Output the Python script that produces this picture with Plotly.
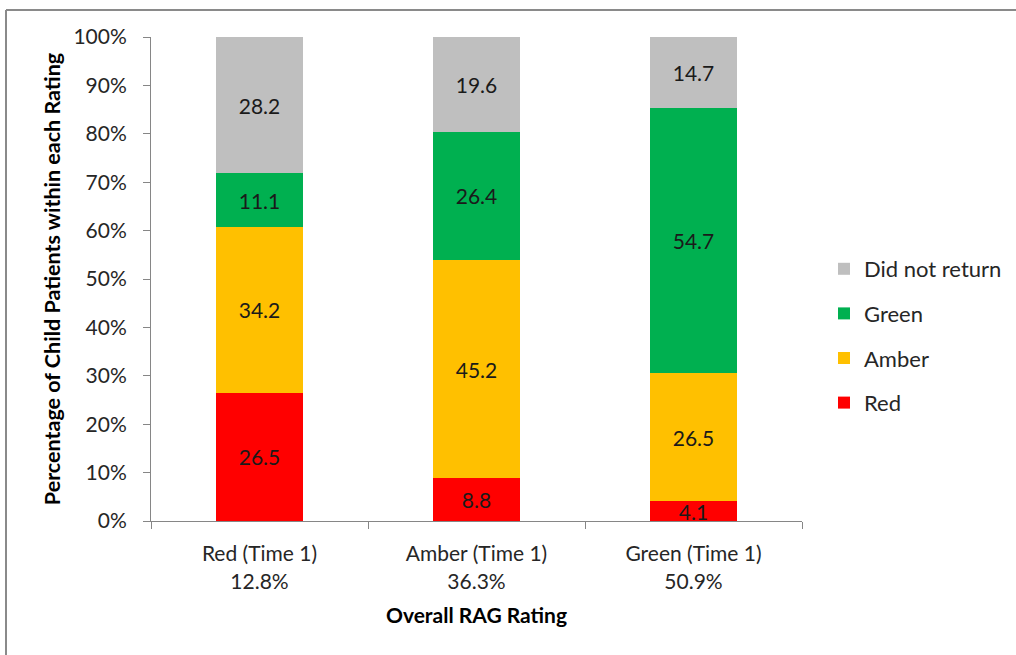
import plotly.graph_objects as go

categories = ["Red (Time 1)<br>12.8%", "Amber (Time 1)<br>36.3%", "Green (Time 1)<br>50.9%"]
series_names = ["Red", "Amber", "Green", "Did not return"]
red_vals = [26.5, 8.8, 4.1]
amber_vals = [34.2, 45.2, 26.5]
green_vals = [11.1, 26.4, 54.7]
dnr_vals = [28.2, 19.6, 14.7]
y_ticks = [0, 10, 20, 30, 40, 50, 60, 70, 80, 90, 100]
y_tick_labels = [f"{v}%" for v in y_ticks]

colors = {"Red": "#FF0000", "Amber": "#FFC000", "Green": "#00B050", "Did not return": "#BFBFBF"}
values = {"Red": red_vals, "Amber": amber_vals, "Green": green_vals, "Did not return": dnr_vals}
ranks = {"Did not return": 1, "Green": 2, "Amber": 3, "Red": 4}

FONT = "Lato, 'Open Sans', sans-serif"

fig = go.Figure()
for name in series_names:
    fig.add_trace(go.Bar(
        x=categories, y=values[name], name=name,
        marker=dict(color=colors[name], line=dict(width=0)),
        text=[f"{v:.1f}" for v in values[name]],
        textposition="inside", insidetextanchor="middle", textangle=0,
        constraintext="none",
        textfont=dict(size=21, color="#1a1a1a", family=FONT),
        legendgroup=name, legendrank=ranks[name], width=0.4,
    ))

L, R, T, B = 151, 802, 37, 521
W, H = 1016, 655

def px(x):
    return (x - L) / (R - L)

def py(y):
    return (B - y) / (B - T)

fig.update_layout(
    width=W, height=H,
    barmode="stack",
    paper_bgcolor="white", plot_bgcolor="white",
    margin=dict(l=L, r=W - R, t=T, b=H - B, autoexpand=False),
    font=dict(family=FONT, size=20, color="#262626"),
    showlegend=True,
    legend=dict(
        x=px(824), y=py(336), xanchor="left", yanchor="middle",
        traceorder="grouped", tracegroupgap=13,
        font=dict(size=22, color="#262626", family=FONT),
        itemwidth=30, bgcolor="rgba(0,0,0,0)",
    ),
    xaxis=dict(
        type="category", range=[-0.5, 2.5],
        showline=True, linecolor="#868686", linewidth=1,
        ticks="outside", tickson="boundaries", ticklen=7, tickcolor="#868686",
        tickfont=dict(size=21, color="#262626"),
        ticklabelstandoff=14,
        title=dict(text="<b>Overall RAG Rating</b>", font=dict(size=21, color="#000000"), standoff=16),
        showgrid=False, zeroline=False,
    ),
    yaxis=dict(
        range=[0, 100], tickvals=y_ticks, ticktext=y_tick_labels,
        showline=True, linecolor="#868686", linewidth=1,
        ticks="outside", ticklen=7, tickcolor="#868686",
        tickfont=dict(size=21, color="#262626"),
        ticklabelstandoff=12,
        title=dict(text="<b>Percentage of Child Patients within each Rating</b>", font=dict(size=21.5, color="#000000"), standoff=6),
        showgrid=False, zeroline=False,
    ),
    shapes=[
        dict(type="line", xref="paper", yref="paper", x0=px(6), x1=px(1016), y0=py(10), y1=py(10),
             line=dict(color="#8a8a8a", width=2)),
        dict(type="line", xref="paper", yref="paper", x0=px(6), x1=px(6), y0=py(10), y1=py(655),
             line=dict(color="#8a8a8a", width=2)),
    ],
)

fig.write_html("out.html", config={"displayModeBar": False},
               post_script="document.body.style.margin='0';")
